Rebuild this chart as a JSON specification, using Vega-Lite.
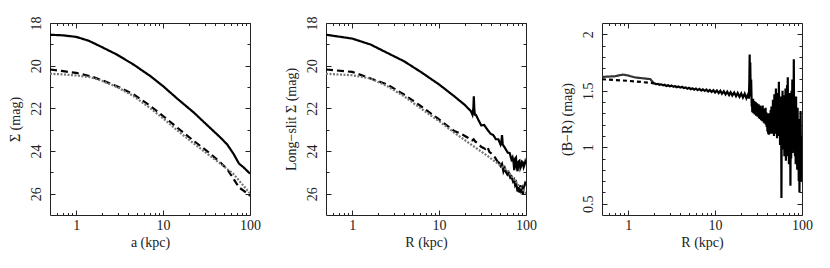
{
  "$schema": "https://vega.github.io/schema/vega-lite/v6.json",
  "padding": {"left": 7, "top": 15, "right": 5, "bottom": 5},
  "bounds": "flush",
  "spacing": 76,
  "config": {
    "font": "Liberation Serif",
    "view": {"stroke": "#222", "strokeWidth": 1},
    "axis": {"domain": false, "grid": false, "tickColor": "#222", "tickWidth": 1, "labelColor": "#222", "titleColor": "#222", "labelFont": "Liberation Serif", "titleFont": "Liberation Serif", "labelFontSize": 14, "titleFontSize": 14, "titleFontWeight": "normal", "labelFlush": false, "labelOverlap": false}
  },
  "datasets": {
    "p1": [
      {"s":"tot","x":0.5,"y":18.55},{"s":"tot","x":0.71,"y":18.58},{"s":"tot","x":1,"y":18.65},{"s":"tot","x":1.39,"y":18.83},{"s":"tot","x":1.89,"y":19.09},{"s":"tot","x":2.94,"y":19.48},{"s":"tot","x":4.58,"y":19.95},{"s":"tot","x":7.14,"y":20.49},{"s":"tot","x":10,"y":20.96},{"s":"tot","x":14.5,"y":21.54},{"s":"tot","x":22.6,"y":22.2},{"s":"tot","x":32,"y":22.78},{"s":"tot","x":45.7,"y":23.37},{"s":"tot","x":54.6,"y":23.69},{"s":"tot","x":65,"y":24.15},{"s":"tot","x":74.7,"y":24.59},{"s":"tot","x":85,"y":24.78},{"s":"tot","x":100,"y":25.06},
      {"s":"dash","x":0.5,"y":20.18},{"s":"dash","x":0.71,"y":20.26},{"s":"dash","x":1,"y":20.34},{"s":"dash","x":1.45,"y":20.49},{"s":"dash","x":1.89,"y":20.65},{"s":"dash","x":2.94,"y":20.96},{"s":"dash","x":4.58,"y":21.35},{"s":"dash","x":7.14,"y":21.89},{"s":"dash","x":10,"y":22.36},{"s":"dash","x":14.5,"y":22.9},{"s":"dash","x":22.6,"y":23.53},{"s":"dash","x":32,"y":24.0},{"s":"dash","x":45.7,"y":24.54},{"s":"dash","x":54.6,"y":24.85},{"s":"dash","x":65,"y":25.32},{"s":"dash","x":74.7,"y":25.71},{"s":"dash","x":85,"y":25.87},{"s":"dash","x":100,"y":26.1},
      {"s":"model","x":0.5,"y":20.38},{"s":"model","x":0.71,"y":20.41},{"s":"model","x":1,"y":20.46},{"s":"model","x":1.45,"y":20.54},{"s":"model","x":1.89,"y":20.68},{"s":"model","x":2.94,"y":21.0},{"s":"model","x":4.58,"y":21.43},{"s":"model","x":7.14,"y":22.0},{"s":"model","x":10,"y":22.47},{"s":"model","x":14.5,"y":23.03},{"s":"model","x":22.6,"y":23.65},{"s":"model","x":32,"y":24.12},{"s":"model","x":45.7,"y":24.59},{"s":"model","x":65,"y":25.09},{"s":"model","x":100,"y":25.99}
    ],
    "p2": [
      {"s":"tot","x":0.5,"y":18.55},{"s":"tot","x":1,"y":18.73},{"s":"tot","x":1.63,"y":19.01},{"s":"tot","x":2.53,"y":19.4},{"s":"tot","x":3.94,"y":19.79},{"s":"tot","x":6.14,"y":20.29},{"s":"tot","x":10,"y":20.88},{"s":"tot","x":14.9,"y":21.43},{"s":"tot","x":19.5,"y":21.82},{"s":"tot","x":23.2,"y":22.13},{"s":"tot","x":24.2,"y":22.3},{"s":"tot","x":24.8,"y":22.0},{"s":"tot","x":25.1,"y":21.43},{"s":"tot","x":25.4,"y":22.0},{"s":"tot","x":25.8,"y":22.3},{"s":"tot","x":26.5,"y":22.3},{"s":"tot","x":28,"y":22.5},{"s":"tot","x":30.5,"y":22.8},{"s":"tot","x":33,"y":22.78},{"s":"tot","x":36,"y":23.0},{"s":"tot","x":39.3,"y":23.2},{"s":"tot","x":42,"y":23.25},{"s":"tot","x":45,"y":23.45},{"s":"tot","x":48,"y":23.45},{"s":"tot","x":51,"y":23.7},{"s":"tot","x":52,"y":23.6},{"s":"tot","x":53,"y":23.25},{"s":"tot","x":54,"y":23.7},{"s":"tot","x":57,"y":23.84},{"s":"tot","x":61.5,"y":24.07},{"s":"tot","x":65,"y":24.1},{"s":"tot","x":68,"y":24.4},{"s":"tot","x":70,"y":24.3},{"s":"tot","x":72,"y":24.55},{"s":"tot","x":73.2,"y":24.9},{"s":"tot","x":75,"y":24.35},{"s":"tot","x":76.7,"y":24.3},{"s":"tot","x":78,"y":24.75},{"s":"tot","x":80,"y":24.95},{"s":"tot","x":82,"y":24.5},{"s":"tot","x":84,"y":24.46},{"s":"tot","x":86,"y":24.8},{"s":"tot","x":88,"y":24.7},{"s":"tot","x":90,"y":24.5},{"s":"tot","x":92,"y":24.54},{"s":"tot","x":94,"y":24.75},{"s":"tot","x":96,"y":24.65},{"s":"tot","x":98,"y":24.5},{"s":"tot","x":100,"y":24.62},
      {"s":"dash","x":0.5,"y":20.18},{"s":"dash","x":1,"y":20.29},{"s":"dash","x":1.63,"y":20.6},{"s":"dash","x":2.53,"y":20.88},{"s":"dash","x":3.94,"y":21.35},{"s":"dash","x":6.14,"y":21.89},{"s":"dash","x":10,"y":22.52},{"s":"dash","x":14.9,"y":23.06},{"s":"dash","x":18,"y":23.2},{"s":"dash","x":22,"y":23.4},{"s":"dash","x":24,"y":23.5},{"s":"dash","x":25,"y":23.45},{"s":"dash","x":26,"y":23.55},{"s":"dash","x":28,"y":23.65},{"s":"dash","x":30.5,"y":23.8},{"s":"dash","x":34,"y":23.9},{"s":"dash","x":36,"y":23.8},{"s":"dash","x":38,"y":24.05},{"s":"dash","x":41,"y":24.15},{"s":"dash","x":44,"y":24.3},{"s":"dash","x":47,"y":24.5},
      {"s":"tail","x":47,"y":24.5},{"s":"tail","x":49,"y":24.55},{"s":"tail","x":51,"y":24.7},{"s":"tail","x":53,"y":24.6},{"s":"tail","x":55,"y":24.96},{"s":"tail","x":57,"y":24.8},{"s":"tail","x":59,"y":25.0},{"s":"tail","x":61,"y":25.1},{"s":"tail","x":63,"y":25.0},{"s":"tail","x":66,"y":25.25},{"s":"tail","x":68,"y":25.2},{"s":"tail","x":71,"y":25.43},{"s":"tail","x":73,"y":25.35},{"s":"tail","x":75,"y":25.6},{"s":"tail","x":77,"y":25.5},{"s":"tail","x":80,"y":25.9},{"s":"tail","x":82,"y":25.7},{"s":"tail","x":84,"y":25.95},{"s":"tail","x":86,"y":25.6},{"s":"tail","x":88,"y":25.85},{"s":"tail","x":90,"y":25.75},{"s":"tail","x":92,"y":26.02},{"s":"tail","x":94,"y":25.7},{"s":"tail","x":96,"y":25.63},{"s":"tail","x":98,"y":25.5},{"s":"tail","x":100,"y":25.56},
      {"s":"model","x":0.5,"y":20.38},{"s":"model","x":1,"y":20.45},{"s":"model","x":1.63,"y":20.6},{"s":"model","x":2.53,"y":20.96},{"s":"model","x":3.94,"y":21.43},{"s":"model","x":6.14,"y":22.0},{"s":"model","x":10,"y":22.6},{"s":"model","x":14.9,"y":23.14},{"s":"model","x":23.2,"y":23.69},{"s":"model","x":36,"y":24.23},{"s":"model","x":61.5,"y":24.93},{"s":"model","x":80,"y":25.55},{"s":"model","x":100,"y":25.99}
    ],
    "p3": [
      {"s":"thin","x":0.5,"y":1.623},{"s":"thin","x":0.7,"y":1.628},{"s":"thin","x":0.8,"y":1.638},{"s":"thin","x":0.87,"y":1.643},{"s":"thin","x":1.0,"y":1.635},{"s":"thin","x":1.2,"y":1.618},{"s":"thin","x":1.5,"y":1.61},{"s":"thin","x":1.8,"y":1.603},{"s":"thin","x":1.95,"y":1.572},{"s":"thin","x":2.0,"y":1.566},
      {"s":"dash3","x":0.5,"y":1.602},{"s":"dash3","x":1,"y":1.588},{"s":"dash3","x":1.5,"y":1.576},{"s":"dash3","x":2.0,"y":1.566},
      {"s":"n","x":2.0,"y":1.566},{"s":"n","x":2.09,"y":1.558},{"s":"n","x":2.19,"y":1.561},{"s":"n","x":2.29,"y":1.553},{"s":"n","x":2.4,"y":1.557},{"s":"n","x":2.51,"y":1.549},{"s":"n","x":2.63,"y":1.553},{"s":"n","x":2.75,"y":1.543},{"s":"n","x":2.88,"y":1.549},{"s":"n","x":3.02,"y":1.54},{"s":"n","x":3.16,"y":1.546},{"s":"n","x":3.31,"y":1.536},{"s":"n","x":3.47,"y":1.541},{"s":"n","x":3.63,"y":1.531},{"s":"n","x":3.8,"y":1.538},{"s":"n","x":3.98,"y":1.528},{"s":"n","x":4.17,"y":1.535},{"s":"n","x":4.37,"y":1.524},{"s":"n","x":4.57,"y":1.53},{"s":"n","x":4.79,"y":1.519},{"s":"n","x":5.01,"y":1.527},{"s":"n","x":5.25,"y":1.514},{"s":"n","x":5.5,"y":1.522},{"s":"n","x":5.75,"y":1.51},{"s":"n","x":6.03,"y":1.519},{"s":"n","x":6.31,"y":1.506},{"s":"n","x":6.61,"y":1.516},{"s":"n","x":6.92,"y":1.502},{"s":"n","x":7.24,"y":1.513},{"s":"n","x":7.59,"y":1.499},{"s":"n","x":7.94,"y":1.511},{"s":"n","x":8.32,"y":1.494},{"s":"n","x":8.71,"y":1.507},{"s":"n","x":9.12,"y":1.49},{"s":"n","x":9.55,"y":1.505},{"s":"n","x":10.0,"y":1.484},{"s":"n","x":10.5,"y":1.502},{"s":"n","x":11.0,"y":1.479},{"s":"n","x":11.5,"y":1.5},{"s":"n","x":12.0,"y":1.473},{"s":"n","x":12.6,"y":1.495},{"s":"n","x":13.2,"y":1.468},{"s":"n","x":13.8,"y":1.492},{"s":"n","x":14.5,"y":1.462},{"s":"n","x":15.1,"y":1.487},{"s":"n","x":15.8,"y":1.458},{"s":"n","x":16.6,"y":1.484},{"s":"n","x":17.4,"y":1.452},{"s":"n","x":18.2,"y":1.48},{"s":"n","x":19.1,"y":1.446},{"s":"n","x":20.0,"y":1.476},{"s":"n","x":20.9,"y":1.44},{"s":"n","x":21.9,"y":1.474},{"s":"n","x":22.9,"y":1.434},{"s":"n","x":24.0,"y":1.47},{"s":"n","x":24.5,"y":1.43},{"s":"n","x":24.8,"y":1.6},{"s":"n","x":25.0,"y":1.82},{"s":"n","x":25.2,"y":1.55},{"s":"n","x":25.4,"y":1.75},{"s":"n","x":25.7,"y":1.45},{"s":"n","x":26.0,"y":1.6},{"s":"n","x":26.4,"y":1.36},
      {"s":"n","x":26.6,"y":1.42},{"s":"n","x":26.8,"y":1.31},{"s":"n","x":27.0,"y":1.4},{"s":"n","x":27.2,"y":1.33},{"s":"n","x":27.4,"y":1.43},{"s":"n","x":27.6,"y":1.3},{"s":"n","x":27.8,"y":1.39},{"s":"n","x":28.0,"y":1.32},{"s":"n","x":28.3,"y":1.41},{"s":"n","x":28.5,"y":1.29},{"s":"n","x":28.8,"y":1.38},{"s":"n","x":29.0,"y":1.31},{"s":"n","x":29.3,"y":1.4},{"s":"n","x":29.6,"y":1.28},{"s":"n","x":29.9,"y":1.37},{"s":"n","x":30.2,"y":1.3},{"s":"n","x":30.5,"y":1.39},{"s":"n","x":30.8,"y":1.27},{"s":"n","x":31.1,"y":1.36},{"s":"n","x":31.4,"y":1.29},{"s":"n","x":31.7,"y":1.38},{"s":"n","x":32.0,"y":1.26},{"s":"n","x":32.3,"y":1.35},{"s":"n","x":32.6,"y":1.25},{"s":"n","x":32.9,"y":1.37},{"s":"n","x":33.2,"y":1.27},{"s":"n","x":33.5,"y":1.34},{"s":"n","x":33.8,"y":1.24},{"s":"n","x":34.1,"y":1.36},{"s":"n","x":34.4,"y":1.26},{"s":"n","x":34.7,"y":1.33},{"s":"n","x":35.0,"y":1.23},{"s":"n","x":35.3,"y":1.37},{"s":"n","x":35.6,"y":1.25},{"s":"n","x":36.0,"y":1.32},{"s":"n","x":36.3,"y":1.22},{"s":"n","x":36.7,"y":1.34},{"s":"n","x":37.0,"y":1.21},{"s":"n","x":37.4,"y":1.33},{"s":"n","x":37.7,"y":1.23},{"s":"n","x":38.1,"y":1.35},{"s":"n","x":38.4,"y":1.2},{"s":"n","x":38.8,"y":1.31},{"s":"n","x":39.2,"y":1.18},{"s":"n","x":39.6,"y":1.3},{"s":"n","x":40.0,"y":1.14},{"s":"n","x":40.4,"y":1.28},{"s":"n","x":40.8,"y":1.12},{"s":"n","x":41.2,"y":1.27},{"s":"n","x":41.6,"y":1.11},{"s":"n","x":42.0,"y":1.3},{"s":"n","x":42.4,"y":1.13},{"s":"n","x":42.8,"y":1.26},{"s":"n","x":43.2,"y":1.15},{"s":"n","x":43.6,"y":1.33},{"s":"n","x":44.0,"y":1.12},{"s":"n","x":44.5,"y":1.36},{"s":"n","x":44.9,"y":1.16},{"s":"n","x":45.4,"y":1.3},{"s":"n","x":45.8,"y":1.12},{"s":"n","x":46.3,"y":1.42},{"s":"n","x":46.7,"y":1.15},{"s":"n","x":47.2,"y":1.38},{"s":"n","x":47.6,"y":1.1},{"s":"n","x":48.1,"y":1.47},{"s":"n","x":48.6,"y":1.18},{"s":"n","x":49.1,"y":1.4},{"s":"n","x":49.6,"y":1.12},{"s":"n","x":50.1,"y":1.52},{"s":"n","x":50.6,"y":1.16},{"s":"n","x":51.1,"y":1.44},{"s":"n","x":51.6,"y":1.08},{"s":"n","x":52.1,"y":1.4},{"s":"n","x":52.6,"y":1.2},{"s":"n","x":53.2,"y":1.48},{"s":"n","x":53.7,"y":1.1},{"s":"n","x":54.2,"y":1.58},{"s":"n","x":54.8,"y":1.15},{"s":"n","x":55.3,"y":1.42},{"s":"n","x":55.9,"y":1.02},{"s":"n","x":56.4,"y":1.38},{"s":"n","x":57.0,"y":1.1},{"s":"n","x":57.5,"y":1.45},{"s":"n","x":58.0,"y":0.55},{"s":"n","x":58.5,"y":1.35},{"s":"n","x":59.1,"y":1.02},{"s":"n","x":59.7,"y":1.5},{"s":"n","x":60.3,"y":0.98},{"s":"n","x":60.9,"y":1.4},{"s":"n","x":61.5,"y":1.05},{"s":"n","x":62.1,"y":1.46},{"s":"n","x":62.7,"y":0.92},{"s":"n","x":63.4,"y":1.36},{"s":"n","x":64.0,"y":0.95},{"s":"n","x":64.6,"y":1.52},{"s":"n","x":65.3,"y":0.88},{"s":"n","x":65.9,"y":1.42},{"s":"n","x":66.6,"y":1.0},{"s":"n","x":67.3,"y":1.55},{"s":"n","x":67.9,"y":0.92},{"s":"n","x":68.6,"y":1.62},{"s":"n","x":69.3,"y":1.0},{"s":"n","x":70.0,"y":1.4},{"s":"n","x":70.7,"y":0.85},{"s":"n","x":71.4,"y":1.48},{"s":"n","x":72.1,"y":0.95},{"s":"n","x":72.9,"y":1.3},{"s":"n","x":73.6,"y":0.66},{"s":"n","x":74.3,"y":1.25},{"s":"n","x":75.1,"y":0.9},{"s":"n","x":75.8,"y":1.5},{"s":"n","x":76.6,"y":1.0},{"s":"n","x":77.4,"y":1.6},{"s":"n","x":78.1,"y":0.95},{"s":"n","x":78.9,"y":1.4},{"s":"n","x":79.7,"y":1.05},{"s":"n","x":80.5,"y":1.78},{"s":"n","x":81.3,"y":1.0},{"s":"n","x":82.1,"y":1.45},{"s":"n","x":83.0,"y":0.92},{"s":"n","x":83.8,"y":1.38},{"s":"n","x":84.6,"y":0.85},{"s":"n","x":85.5,"y":1.45},{"s":"n","x":86.3,"y":1.0},{"s":"n","x":87.2,"y":1.3},{"s":"n","x":88.1,"y":0.8},{"s":"n","x":89.0,"y":1.35},{"s":"n","x":89.9,"y":0.9},{"s":"n","x":90.8,"y":1.25},{"s":"n","x":91.7,"y":0.7},{"s":"n","x":92.6,"y":1.2},{"s":"n","x":93.5,"y":0.6},{"s":"n","x":94.4,"y":1.15},{"s":"n","x":95.4,"y":0.75},{"s":"n","x":96.3,"y":1.32},{"s":"n","x":97.3,"y":0.85},{"s":"n","x":98.2,"y":1.1},{"s":"n","x":99.2,"y":0.7},{"s":"n","x":100,"y":1.0}
    ]
  },
  "hconcat": [
    {
      "width": 200, "height": 192,
      "data": {"name": "p1"},
      "resolve": {"axis": {"x": "independent", "y": "independent"}},
      "layer": [
        {"mark": {"type": "line", "clip": true},
         "encoding": {
           "x": {"field": "x", "type": "quantitative", "scale": {"type": "log", "domain": [0.5, 100], "nice": false}, "axis": {"orient": "bottom", "values": [1, 10, 100], "format": "~g", "tickSize": -5, "labelPadding": 8, "title": "a (kpc)", "titlePadding": 3}},
           "y": {"field": "y", "type": "quantitative", "scale": {"domain": [18, 27], "reverse": true, "nice": false, "zero": false}, "axis": {"orient": "left", "values": [18, 20, 22, 24, 26], "format": "~g", "tickSize": -5, "labelPadding": 12, "labelAngle": -90, "title": "Σ (mag)", "titlePadding": 7}},
           "color": {"field": "s", "type": "nominal", "scale": {"domain": ["tot", "dash", "model", "thin", "dash3", "n", "tail"], "range": ["#000", "#000", "#777", "#333", "#000", "#000", "#000"]}, "legend": null},
           "strokeDash": {"field": "s", "type": "nominal", "scale": {"domain": ["tot", "dash", "model", "thin", "dash3", "n", "tail"], "range": [[1, 0], [7, 4], [2, 1.5], [1, 0], [4, 3], [1, 0], [1, 0]]}, "legend": null},
           "strokeWidth": {"field": "s", "type": "nominal", "scale": {"domain": ["tot", "dash", "model", "thin", "dash3", "n", "tail"], "range": [2.2, 2.2, 1, 0.8, 0.8, 1.5, 2.2]}, "legend": null}
         }},
        {"mark": {"type": "point", "opacity": 0},
         "encoding": {
           "x": {"field": "x", "type": "quantitative", "scale": {"type": "log", "domain": [0.5, 100], "nice": false}, "axis": {"orient": "bottom", "values": [0.6, 0.7, 0.8, 0.9, 2, 3, 4, 5, 6, 7, 8, 9, 20, 30, 40, 50, 60, 70, 80, 90], "tickSize": -2.5, "labels": false, "title": null}},
           "y": {"field": "y", "type": "quantitative", "scale": {"domain": [18, 27], "reverse": true, "nice": false, "zero": false}, "axis": {"orient": "left", "values": [19, 21, 23, 25], "tickSize": -3, "labels": false, "title": null}}
         }},
        {"mark": {"type": "point", "opacity": 0},
         "encoding": {
           "x": {"field": "x", "type": "quantitative", "scale": {"type": "log", "domain": [0.5, 100], "nice": false}, "axis": {"orient": "top", "values": [1, 10, 100], "tickSize": -5, "labels": false, "title": null}},
           "y": {"field": "y", "type": "quantitative", "scale": {"domain": [18, 27], "reverse": true, "nice": false, "zero": false}, "axis": {"orient": "right", "values": [18, 20, 22, 24, 26], "tickSize": -5, "labels": false, "title": null}}
         }},
        {"mark": {"type": "point", "opacity": 0},
         "encoding": {
           "x": {"field": "x", "type": "quantitative", "scale": {"type": "log", "domain": [0.5, 100], "nice": false}, "axis": {"orient": "top", "values": [0.6, 0.7, 0.8, 0.9, 2, 3, 4, 5, 6, 7, 8, 9, 20, 30, 40, 50, 60, 70, 80, 90], "tickSize": -2.5, "labels": false, "title": null}},
           "y": {"field": "y", "type": "quantitative", "scale": {"domain": [18, 27], "reverse": true, "nice": false, "zero": false}, "axis": {"orient": "right", "values": [19, 21, 23, 25], "tickSize": -3, "labels": false, "title": null}}
         }}
      ]
    },
    {
      "width": 200, "height": 192,
      "data": {"name": "p2"},
      "resolve": {"axis": {"x": "independent", "y": "independent"}},
      "layer": [
        {"mark": {"type": "line", "clip": true},
         "encoding": {
           "x": {"field": "x", "type": "quantitative", "scale": {"type": "log", "domain": [0.5, 100], "nice": false}, "axis": {"orient": "bottom", "values": [1, 10, 100], "format": "~g", "tickSize": -5, "labelPadding": 8, "title": "R (kpc)", "titlePadding": 3}},
           "y": {"field": "y", "type": "quantitative", "scale": {"domain": [18, 27], "reverse": true, "nice": false, "zero": false}, "axis": {"orient": "left", "values": [18, 20, 22, 24, 26], "format": "~g", "tickSize": -5, "labelPadding": 12, "labelAngle": -90, "title": "Long−slit Σ (mag)", "titlePadding": 7}},
           "color": {"field": "s", "type": "nominal", "scale": {"domain": ["tot", "dash", "model", "thin", "dash3", "n", "tail"], "range": ["#000", "#000", "#777", "#333", "#000", "#000", "#000"]}, "legend": null},
           "strokeDash": {"field": "s", "type": "nominal", "scale": {"domain": ["tot", "dash", "model", "thin", "dash3", "n", "tail"], "range": [[1, 0], [7, 4], [2, 1.5], [1, 0], [4, 3], [1, 0], [1, 0]]}, "legend": null},
           "strokeWidth": {"field": "s", "type": "nominal", "scale": {"domain": ["tot", "dash", "model", "thin", "dash3", "n", "tail"], "range": [2.2, 2.2, 1, 0.8, 0.8, 1.5, 2.2]}, "legend": null}
         }},
        {"mark": {"type": "point", "opacity": 0},
         "encoding": {
           "x": {"field": "x", "type": "quantitative", "scale": {"type": "log", "domain": [0.5, 100], "nice": false}, "axis": {"orient": "bottom", "values": [0.6, 0.7, 0.8, 0.9, 2, 3, 4, 5, 6, 7, 8, 9, 20, 30, 40, 50, 60, 70, 80, 90], "tickSize": -2.5, "labels": false, "title": null}},
           "y": {"field": "y", "type": "quantitative", "scale": {"domain": [18, 27], "reverse": true, "nice": false, "zero": false}, "axis": {"orient": "left", "values": [19, 21, 23, 25], "tickSize": -3, "labels": false, "title": null}}
         }},
        {"mark": {"type": "point", "opacity": 0},
         "encoding": {
           "x": {"field": "x", "type": "quantitative", "scale": {"type": "log", "domain": [0.5, 100], "nice": false}, "axis": {"orient": "top", "values": [1, 10, 100], "tickSize": -5, "labels": false, "title": null}},
           "y": {"field": "y", "type": "quantitative", "scale": {"domain": [18, 27], "reverse": true, "nice": false, "zero": false}, "axis": {"orient": "right", "values": [18, 20, 22, 24, 26], "tickSize": -5, "labels": false, "title": null}}
         }},
        {"mark": {"type": "point", "opacity": 0},
         "encoding": {
           "x": {"field": "x", "type": "quantitative", "scale": {"type": "log", "domain": [0.5, 100], "nice": false}, "axis": {"orient": "top", "values": [0.6, 0.7, 0.8, 0.9, 2, 3, 4, 5, 6, 7, 8, 9, 20, 30, 40, 50, 60, 70, 80, 90], "tickSize": -2.5, "labels": false, "title": null}},
           "y": {"field": "y", "type": "quantitative", "scale": {"domain": [18, 27], "reverse": true, "nice": false, "zero": false}, "axis": {"orient": "right", "values": [19, 21, 23, 25], "tickSize": -3, "labels": false, "title": null}}
         }}
      ]
    },
    {
      "width": 200, "height": 192,
      "data": {"name": "p3"},
      "resolve": {"axis": {"x": "independent", "y": "independent"}},
      "layer": [
        {"mark": {"type": "line", "clip": true},
         "encoding": {
           "x": {"field": "x", "type": "quantitative", "scale": {"type": "log", "domain": [0.5, 100], "nice": false}, "axis": {"orient": "bottom", "values": [1, 10, 100], "format": "~g", "tickSize": -5, "labelPadding": 8, "title": "R (kpc)", "titlePadding": 3}},
           "y": {"field": "y", "type": "quantitative", "scale": {"domain": [0.4, 2.1], "nice": false, "zero": false}, "axis": {"orient": "left", "values": [0.5, 1, 1.5, 2], "format": "~g", "tickSize": -5, "labelPadding": 12, "labelAngle": -90, "title": "(B−R) (mag)", "titlePadding": 7}},
           "color": {"field": "s", "type": "nominal", "scale": {"domain": ["tot", "dash", "model", "thin", "dash3", "n", "tail"], "range": ["#000", "#000", "#777", "#333", "#000", "#000", "#000"]}, "legend": null},
           "strokeDash": {"field": "s", "type": "nominal", "scale": {"domain": ["tot", "dash", "model", "thin", "dash3", "n", "tail"], "range": [[1, 0], [7, 4], [2, 1.5], [1, 0], [4, 3], [1, 0], [1, 0]]}, "legend": null},
           "strokeWidth": {"field": "s", "type": "nominal", "scale": {"domain": ["tot", "dash", "model", "thin", "dash3", "n", "tail"], "range": [2.2, 2.2, 1, 0.8, 0.8, 1.5, 2.2]}, "legend": null}
         }},
        {"mark": {"type": "point", "opacity": 0},
         "encoding": {
           "x": {"field": "x", "type": "quantitative", "scale": {"type": "log", "domain": [0.5, 100], "nice": false}, "axis": {"orient": "bottom", "values": [0.6, 0.7, 0.8, 0.9, 2, 3, 4, 5, 6, 7, 8, 9, 20, 30, 40, 50, 60, 70, 80, 90], "tickSize": -2.5, "labels": false, "title": null}},
           "y": {"field": "y", "type": "quantitative", "scale": {"domain": [0.4, 2.1], "nice": false, "zero": false}, "axis": {"orient": "left", "values": [0.6, 0.7, 0.8, 0.9, 1.1, 1.2, 1.3, 1.4, 1.6, 1.7, 1.8, 1.9], "tickSize": -3, "labels": false, "title": null}}
         }},
        {"mark": {"type": "point", "opacity": 0},
         "encoding": {
           "x": {"field": "x", "type": "quantitative", "scale": {"type": "log", "domain": [0.5, 100], "nice": false}, "axis": {"orient": "top", "values": [1, 10, 100], "tickSize": -5, "labels": false, "title": null}},
           "y": {"field": "y", "type": "quantitative", "scale": {"domain": [0.4, 2.1], "nice": false, "zero": false}, "axis": {"orient": "right", "values": [0.5, 1, 1.5, 2], "tickSize": -5, "labels": false, "title": null}}
         }},
        {"mark": {"type": "point", "opacity": 0},
         "encoding": {
           "x": {"field": "x", "type": "quantitative", "scale": {"type": "log", "domain": [0.5, 100], "nice": false}, "axis": {"orient": "top", "values": [0.6, 0.7, 0.8, 0.9, 2, 3, 4, 5, 6, 7, 8, 9, 20, 30, 40, 50, 60, 70, 80, 90], "tickSize": -2.5, "labels": false, "title": null}},
           "y": {"field": "y", "type": "quantitative", "scale": {"domain": [0.4, 2.1], "nice": false, "zero": false}, "axis": {"orient": "right", "values": [0.6, 0.7, 0.8, 0.9, 1.1, 1.2, 1.3, 1.4, 1.6, 1.7, 1.8, 1.9], "tickSize": -3, "labels": false, "title": null}}
         }}
      ]
    }
  ]
}
